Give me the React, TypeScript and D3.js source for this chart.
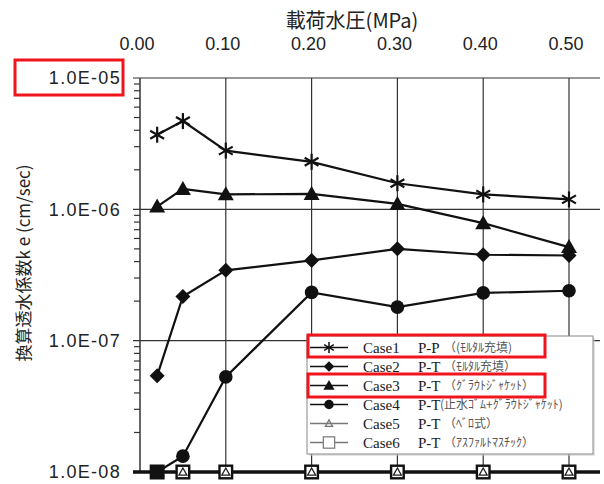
import React from "react";
import * as d3 from "d3";

const pressures = [0.02, 0.05, 0.1, 0.2, 0.3, 0.4, 0.5];
const case1 = [3.7e-6, 4.7e-6, 2.8e-6, 2.3e-6, 1.58e-6, 1.3e-6, 1.19e-6];
const case2 = [5.4e-8, 2.17e-7, 3.43e-7, 4.08e-7, 5.0e-7, 4.51e-7, 4.45e-7];
const case3 = [1.05e-6, 1.43e-6, 1.3e-6, 1.31e-6, 1.1e-6, 7.85e-7, 5.16e-7];
const case4 = [1e-8, 1.32e-8, 5.3e-8, 2.33e-7, 1.8e-7, 2.31e-7, 2.4e-7];
const case5 = [1e-8, 1e-8, 1e-8, 1e-8, 1e-8, 1e-8, 1e-8];
const case6 = [1e-8, 1e-8, 1e-8, 1e-8, 1e-8, 1e-8, 1e-8];

const xTicks = [0, 0.1, 0.2, 0.3, 0.4, 0.5];
const yTicks = [1e-5, 1e-6, 1e-7, 1e-8];
const yTickLabels = ["1.0E-05", "1.0E-06", "1.0E-07", "1.0E-08"];

const legendCases = ["Case1", "Case2", "Case3", "Case4", "Case5", "Case6"];
const legendTypes = ["P-P", "P-T", "P-T", "P-T", "P-T", "P-T"];
const legendNotes = ["（(ﾓﾙﾀﾙ充填)", "（ﾓﾙﾀﾙ充填）", "（ｸﾞﾗｳﾄｼﾞｬｹｯﾄ）", "(止水ｺﾞﾑ+ｸﾞﾗｳﾄｼﾞｬｹｯﾄ)", "（ﾍﾞﾛ式）", "（ｱｽﾌｧﾙﾄﾏｽﾁｯｸ）"];
const markers = ["asterisk", "diamond", "triangle", "circle", "openTriangle", "openSquare"];

const series = [case1, case2, case3, case4, case5, case6];
const drawOrder = [5, 4, 3, 2, 1, 0];

const W = 604, H = 484;
const x = d3.scaleLinear().domain([0, 0.5]).range([140, 569]);
const y = d3.scaleLog().domain([1e-8, 1e-5]).range([472, 78]);
const plotRight = 600;

function Marker({ type, cx, cy, s = 1, fillOverride }: { type: string; cx: number; cy: number; s?: number; fillOverride?: string }) {
  if (type === "asterisk") {
    const r = 8 * s;
    const angles = [90, 30, 150];
    return (
      <g stroke="#111" strokeWidth={2.2 * s}>
        {angles.map((a) => {
          const dx = Math.cos((a * Math.PI) / 180) * r;
          const dy = Math.sin((a * Math.PI) / 180) * r;
          return <line key={a} x1={cx - dx} y1={cy - dy} x2={cx + dx} y2={cy + dy} />;
        })}
      </g>
    );
  }
  if (type === "diamond") {
    const r = 7.5 * s;
    return <path d={`M${cx},${cy - r}L${cx + r},${cy}L${cx},${cy + r}L${cx - r},${cy}Z`} fill="#111" />;
  }
  if (type === "triangle") {
    const r = 8 * s;
    return <path d={`M${cx},${cy - r}L${cx + r},${cy + r * 0.75}L${cx - r},${cy + r * 0.75}Z`} fill="#111" />;
  }
  if (type === "circle") {
    return <circle cx={cx} cy={cy} r={6.8 * s} fill="#111" />;
  }
  if (type === "openTriangle") {
    const r = 4 * s;
    return <path d={`M${cx},${cy - r}L${cx + r},${cy + r * 0.8}L${cx - r},${cy + r * 0.8}Z`} fill="none" stroke={s < 1 ? "#777" : "#222"} strokeWidth={1.3} />;
  }
  const r = 6.3 * s;
  return (
    <rect x={cx - r} y={cy - r} width={2 * r} height={2 * r} fill={fillOverride || "#fff"}
      stroke={s < 1 ? "#777" : "#111"} strokeWidth={s < 1 ? 1.2 : 2.4} />
  );
}

export default function App() {
  const line = d3.line<number>().x((_, i) => x(pressures[i])).y((d) => y(d));
  const minor: number[] = [];
  for (let e = -8; e < -5; e++) for (let k = 2; k <= 9; k++) minor.push(k * Math.pow(10, e));

  return (
    <svg width={W} height={H} style={{ position: "absolute", left: 0, top: 0, background: "#fff" }}>
      <rect width={W} height={H} fill="#fff" />
      {xTicks.slice(1).map((t) => (
        <line key={t} x1={x(t)} x2={x(t)} y1={y(1e-5)} y2={y(1e-8)} stroke="#333" strokeWidth={1.2} />
      ))}
      {yTicks.map((t) => (
        <line key={t} x1={133} x2={plotRight} y1={y(t)} y2={y(t)} stroke="#333" strokeWidth={1.2} />
      ))}
      {minor.map((t) => (
        <line key={t} x1={134} x2={140} y1={y(t)} y2={y(t)} stroke="#333" strokeWidth={1.2} />
      ))}
      <line x1={140} x2={140} y1={y(1e-5)} y2={y(1e-8)} stroke="#333" strokeWidth={1.5} />
      <line x1={133} x2={plotRight} y1={y(1e-8)} y2={y(1e-8)} stroke="#111" strokeWidth={3.5} />

      {series.map((s, i) => (
        <path key={i} d={line(s) || ""} fill="none" stroke="#111" strokeWidth={2.2} />
      ))}
      {drawOrder.map((i) =>
        series[i].map((v, j) => (
          <Marker key={i + "-" + j} type={markers[i]} cx={x(pressures[j])} cy={y(v)}
            fillOverride={i === 5 && j === 0 ? "#111" : undefined} />
        ))
      )}

      {xTicks.map((t) => (
        <text key={t} x={x(t) - 3} y={50} textAnchor="middle" fontFamily="Liberation Sans, Arial, sans-serif"
          fontSize={18} fill="#222">{t.toFixed(2)}</text>
      ))}
      {yTicks.map((t, i) => (
        <text key={t} x={121} y={y(t)} dy="0.35em" textAnchor="end" fontFamily="Liberation Sans, Arial, sans-serif"
          fontSize={18} letterSpacing={1.3} fill="#222">{yTickLabels[i]}</text>
      ))}
      <text x={352} y={28} textAnchor="middle" fontFamily="Noto Sans CJK JP, sans-serif" fontSize={20} fill="#222">
        載荷水圧(MPa)
      </text>
      <text transform="translate(30,263) rotate(-90)" textAnchor="middle" fontFamily="Noto Sans CJK JP, sans-serif"
        fontSize={17} fill="#222">換算透水係数k e (cm/sec)</text>

      <rect x={309} y={338} width={286} height={118} fill="#ccc" opacity={0.5} />
      <rect x={307} y={336} width={286} height={118} fill="#fff" stroke="#888" strokeWidth={1} />
      {legendCases.map((c, i) => {
        const ry = 347.5 + i * 19;
        const grey = i >= 4;
        return (
          <g key={c}>
            <line x1={310} x2={348} y1={ry} y2={ry} stroke={grey ? "#777" : "#111"} strokeWidth={1.4} />
            <Marker type={markers[i]} cx={329} cy={ry} s={grey ? 0.9 : 0.7} />
            <text x={363} y={ry + 5} fontFamily="Liberation Serif, Times New Roman, serif" fontSize={15} fill="#1a1a1a">{c}</text>
            <text x={418} y={ry + 5} fontFamily="Liberation Serif, Times New Roman, serif" fontSize={15} fill="#1a1a1a">{legendTypes[i]}</text>
            <text x={i === 3 ? 440 : 444} y={ry + 4} fontFamily="Noto Sans CJK JP, sans-serif" fontSize={12} fill="#555">{legendNotes[i]}</text>
          </g>
        );
      })}

      <rect x={15} y={60} width={108} height={35} fill="none" stroke="#f0141c" strokeWidth={3} />
      <rect x={308} y={335} width={237} height={22} fill="none" stroke="#f0141c" strokeWidth={3} />
      <rect x={308} y={374} width={237} height={23} fill="none" stroke="#f0141c" strokeWidth={3} />
    </svg>
  );
}
